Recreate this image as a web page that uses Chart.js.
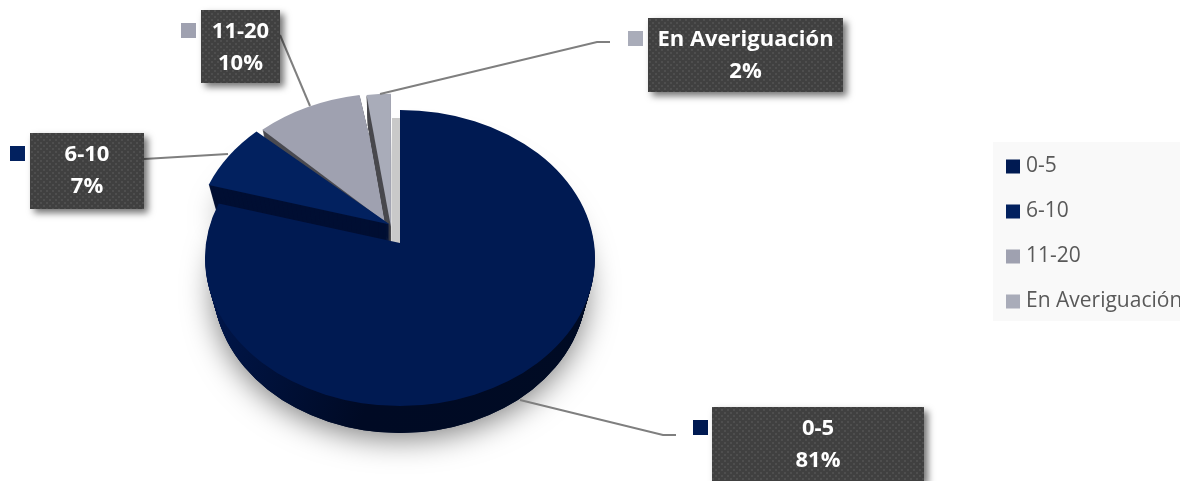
<!DOCTYPE html>
<html>
<head>
<meta charset="utf-8">
<style>
html, body { margin: 0; padding: 0; background: #fff; overflow: hidden; }
#wrap { position: relative; width: 1180px; height: 481px; }
</style>
<script src="https://cdn.jsdelivr.net/npm/chart.js@4/dist/chart.umd.js"></script>
</head>
<body>
<div id="wrap"><canvas id="myChart" width="1180" height="481"></canvas></div>
<script>
var categories = ['0-5', '6-10', '11-20', 'En Averiguación'];
var values = [81, 7, 10, 2];
var colors = ['#001a52', '#02215f', '#9fa1b0', '#a9acb9'];
var sideColors = ['#00113a', '#000f33', '#4a4a50', '#4a4a50'];
var explode = [0, 17, 17, 17];
var nudgeX = [0, 4, -2, -8];
var nudgeY = [0, -4, 3, 5];
var sideDepth = [27, 30, 14, 30];
var inset = [0, 0, 0.035, 0];

// callouts, same order as categories
var boxes = [[712, 407, 212, 74], [30, 133, 114, 76], [201, 10, 79, 73], [648, 18, 195, 74]];
var markers = [[693, 420], [10, 146], [181, 23], [628, 31]];
var leaders = [
    [[520, 400], [663, 435], [676, 435]],
    [[144, 159], [228, 154]],
    [[280, 35], [310, 106]],
    [[380, 94], [597, 42], [610, 42]]
];

var cx = 400, cy = 258, rx = 195, ry = 148, apexUp = 15;
var textFont = '"Open Sans", sans-serif';

function wedge(ctx, el, i, dy) {
    var p = el.getProps(['startAngle', 'endAngle'], true);
    var mid = (p.startAngle + p.endAngle) / 2;
    var ox = Math.cos(mid) * explode[i] + nudgeX[i];
    var oy = Math.sin(mid) * explode[i] * 0.9 + (explode[i] ? -6 : 0) + nudgeY[i];
    var shrink = dy * 0.3; // the body narrows a little towards the bottom
    ctx.beginPath();
    ctx.moveTo(cx + ox, cy - apexUp + oy + dy);
    ctx.ellipse(cx + ox, cy + oy + dy, rx - shrink, ry, 0, p.startAngle + inset[i], p.endAngle - inset[i]);
    ctx.closePath();
}

var pie3d = {
    id: 'pie3d',
    beforeDatasetDraw: function (chart, args) {
        var ctx = chart.ctx;
        var arcs = args.meta.data;
        var order = [2, 3, 1, 0];

        ctx.save();
        // soft shadow under the body
        ctx.save();
        ctx.shadowColor = 'rgba(0,0,0,0.5)';
        ctx.shadowBlur = 30;
        ctx.shadowOffsetX = 0;
        ctx.shadowOffsetY = 6;
        ctx.fillStyle = '#00102f';
        wedge(ctx, arcs[0], 0, 27);
        ctx.fill();
        wedge(ctx, arcs[1], 1, 30);
        ctx.fill();
        ctx.restore();

        // grey wall behind the small slice
        ctx.fillStyle = '#c9c9c9';
        ctx.fillRect(392, 118, 8, 125);

        order.forEach(function (i) {
            // side wall, stacked copies of the slice
            var side = sideColors[i];
            if (i === 0) {
                side = ctx.createLinearGradient(215, 300, 590, 420);
                side.addColorStop(0, '#00164a');
                side.addColorStop(0.45, '#000a24');
                side.addColorStop(1, '#000b24');
            }
            ctx.fillStyle = side;
            for (var d = sideDepth[i]; d > 0; d--) {
                wedge(ctx, arcs[i], i, d);
                ctx.fill();
            }
            wedge(ctx, arcs[i], i, 0);
            ctx.fillStyle = colors[i];
            ctx.fill();
        });
        ctx.restore();
        return false;
    }
};

var legendPanel = {
    id: 'legendPanel',
    beforeDraw: function (chart) {
        chart.ctx.fillStyle = '#f9f9f9';
        chart.ctx.fillRect(993, 142, 187, 179);
    },
    afterLayout: function (chart) {
        // the reference legend runs right up to the edge of the picture
        var shift = 1010.5 - 24 - chart.legend.left;
        chart.legend.left += shift;
        chart.legend.right += shift;
    }
};

var callouts = {
    id: 'callouts',
    afterDraw: function (chart) {
        var ctx = chart.ctx;

        // dotted texture of the label boxes
        var tile = document.createElement('canvas');
        tile.width = 6;
        tile.height = 6;
        var t = tile.getContext('2d');
        t.fillStyle = '#404040';
        t.fillRect(0, 0, 6, 6);
        t.fillStyle = '#4e4e4e';
        t.fillRect(1, 1, 2, 2);
        t.fillRect(4, 4, 2, 2);
        var pattern = ctx.createPattern(tile, 'repeat');
        var total = values.reduce(function (a, b) { return a + b; }, 0);

        categories.forEach(function (name, i) {
            ctx.save();
            ctx.strokeStyle = '#7f7f7f';
            ctx.lineWidth = 2;
            ctx.beginPath();
            leaders[i].forEach(function (p, n) {
                if (n === 0) ctx.moveTo(p[0], p[1]); else ctx.lineTo(p[0], p[1]);
            });
            ctx.stroke();

            var b = boxes[i];
            ctx.shadowColor = 'rgba(0,0,0,0.55)';
            ctx.shadowBlur = 7;
            ctx.shadowOffsetX = 4;
            ctx.shadowOffsetY = 4;
            ctx.fillStyle = pattern;
            ctx.fillRect(b[0], b[1], b[2], b[3]);
            ctx.restore();

            ctx.fillStyle = colors[i];
            ctx.fillRect(markers[i][0], markers[i][1], 15, 15);

            ctx.fillStyle = '#fff';
            ctx.font = 'bold 22px ' + textFont;
            ctx.textAlign = 'center';
            ctx.textBaseline = 'middle';
            ctx.fillText(name, b[0] + b[2] / 2, b[1] + 22);
            ctx.fillText(Math.round(values[i] / total * 100) + '%', b[0] + b[2] / 2, b[1] + 54);
        });
    }
};

new Chart(document.getElementById('myChart'), {
    type: 'pie',
    data: {
        labels: categories,
        datasets: [{
            data: values,
            backgroundColor: colors,
            borderWidth: 0
        }]
    },
    options: {
        responsive: false,
        animation: false,
        layout: { padding: { bottom: 13 } },
        plugins: {
            tooltip: { enabled: false },
            legend: {
                position: 'right',
                align: 'center',
                labels: {
                    color: '#595959',
                    font: { family: textFont, size: 21 },
                    padding: 24,
                    boxWidth: 5,
                    boxHeight: 5,
                    generateLabels: function (chart) {
                        return categories.map(function (name, i) {
                            return { text: name, fillStyle: colors[i], strokeStyle: colors[i], lineWidth: 9, fontColor: '#595959', index: i };
                        });
                    }
                }
            }
        }
    },
    plugins: [legendPanel, pie3d, callouts]
});
</script>
</body>
</html>
